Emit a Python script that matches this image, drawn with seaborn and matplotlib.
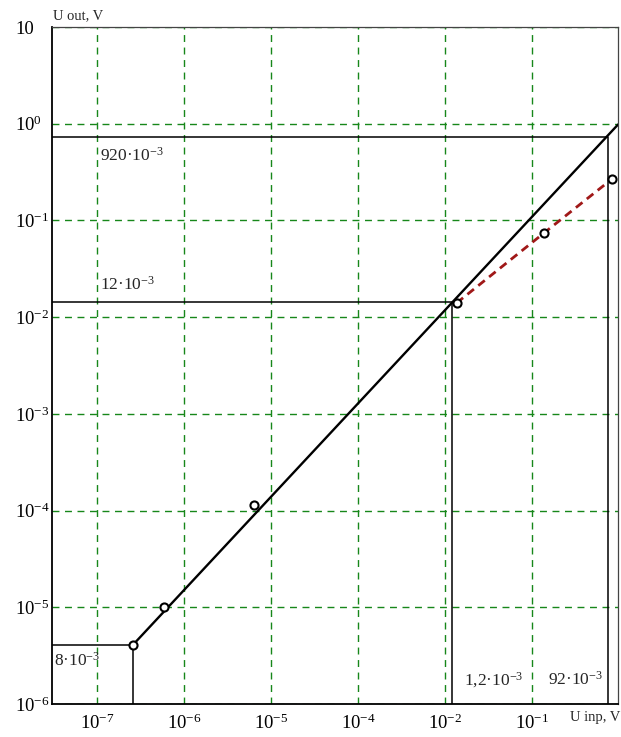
import matplotlib
matplotlib.use("Agg")
import matplotlib.pyplot as plt
import seaborn as sns
from matplotlib.ticker import NullLocator

# axis ticks as labelled on the original drawing
x_ticks = [1e-7, 1e-6, 1e-5, 1e-4, 1e-3, 1e-2]
x_tick_labels = ["10$^{-7}$", "10$^{-6}$", "10$^{-5}$", "10$^{-4}$", "10$^{-2}$", "10$^{-1}$"]
y_ticks = [1e-6, 1e-5, 1e-4, 1e-3, 1e-2, 1e-1, 1e0, 1e1]
y_tick_labels = ["10$^{-6}$", "10$^{-5}$", "10$^{-4}$", "10$^{-3}$", "10$^{-2}$",
                 "10$^{-1}$", "10$^{0}$", "10"]

# linear fit (solid line)
fit_x = [2.6e-7, 9.75e-2]
fit_y = [4.1e-6, 0.98]

# measured points
meas_x = [2.6e-7, 5.9e-7, 6.4e-6, 1.36e-3, 1.37e-2, 8.3e-2]
meas_y = [4.1e-6, 1.0e-5, 1.15e-4, 1.40e-2, 7.4e-2, 0.268]

# read-off lines: corner points on the fit line
ref_x = [2.6e-7, 1.2e-3, 7.48e-2]
ref_y = [4.1e-6, 1.43e-2, 0.734]
ref_y_labels = ["8·10$^{-3}$", "12·10$^{-3}$", "920·10$^{-3}$"]
ref_x_labels = ["1,2·10$^{-3}$", "92·10$^{-3}$"]

sns.set_style("white")
plt.rcParams["font.family"] = ["Liberation Serif", "DejaVu Serif"]
plt.rcParams["mathtext.fontset"] = "custom"
plt.rcParams["mathtext.rm"] = "Liberation Serif"
plt.rcParams["mathtext.it"] = "Liberation Serif:italic"
plt.rcParams["mathtext.default"] = "regular"

fig = plt.figure(figsize=(6.21, 7.37), dpi=100)
ax = fig.add_axes([52 / 621, 33 / 737, 566 / 621, 677 / 737])
ax.set_xscale("log")
ax.set_yscale("log")
xmin, xmax = 10 ** -7.517, 10 ** -1.011
ymin, ymax = 1e-6, 10
ax.set_xlim(xmin, xmax)
ax.set_ylim(ymin, ymax)

ax.set_xticks(x_ticks)
ax.set_xticklabels(x_tick_labels, fontsize=13.5)
ax.set_yticks(y_ticks)
ax.set_yticklabels(y_tick_labels, fontsize=13.5, ha="left")
ax.xaxis.set_minor_locator(NullLocator())
ax.yaxis.set_minor_locator(NullLocator())
ax.tick_params(axis="both", length=0, colors="black")
ax.tick_params(axis="x", pad=7)
ax.tick_params(axis="y", pad=26.5)
ax.grid(True, color="#17871a", linestyle=(0, (5, 4)), linewidth=1.0)

for side in ["left", "bottom"]:
    ax.spines[side].set_color("black")
    ax.spines[side].set_linewidth(1.3)
for side in ["top", "right"]:
    ax.spines[side].set_color("#444444")
    ax.spines[side].set_linewidth(0.9)

# read-off lines
for rx, ry in zip(ref_x, ref_y):
    ax.plot([xmin, rx, rx], [ry, ry, ymin], color="black", linewidth=1.1, zorder=3)

sns.lineplot(x=fit_x, y=fit_y, color="black", linewidth=1.7, ax=ax, zorder=4)
ax.plot(meas_x[3:], meas_y[3:], color="#a01818", linestyle=(0, (3, 2)),
        linewidth=2.0, zorder=4)
sns.scatterplot(x=meas_x, y=meas_y, s=34, color="white", edgecolor="black",
                linewidth=1.5, ax=ax, zorder=6)

# value annotations
ax.annotate(ref_y_labels[2], xy=(xmin, ref_y[2]), xytext=(48, -19),
            textcoords="offset pixels", ha="left", va="center", fontsize=12.5)
ax.annotate(ref_y_labels[1], xy=(xmin, ref_y[1]), xytext=(48, 17),
            textcoords="offset pixels", ha="left", va="center", fontsize=12.5)
ax.annotate(ref_y_labels[0], xy=(xmin, ref_y[0]), xytext=(2, -16),
            textcoords="offset pixels", ha="left", va="center", fontsize=12.5)
ax.annotate(ref_x_labels[0], xy=(ref_x[1], ymin), xytext=(12, 24),
            textcoords="offset pixels", ha="left", va="center", fontsize=12.5)
ax.annotate(ref_x_labels[1], xy=(ref_x[2], ymin), xytext=(-5, 24),
            textcoords="offset pixels", ha="right", va="center", fontsize=12.5)

fig.text(53 / 621, 1 - 16 / 737, "U out, V", ha="left", va="center", fontsize=10.5)
fig.text(620 / 621, 1 - 718 / 737, "U inp, V", ha="right", va="center", fontsize=10.5)

fig.savefig("out.png", dpi=100)
